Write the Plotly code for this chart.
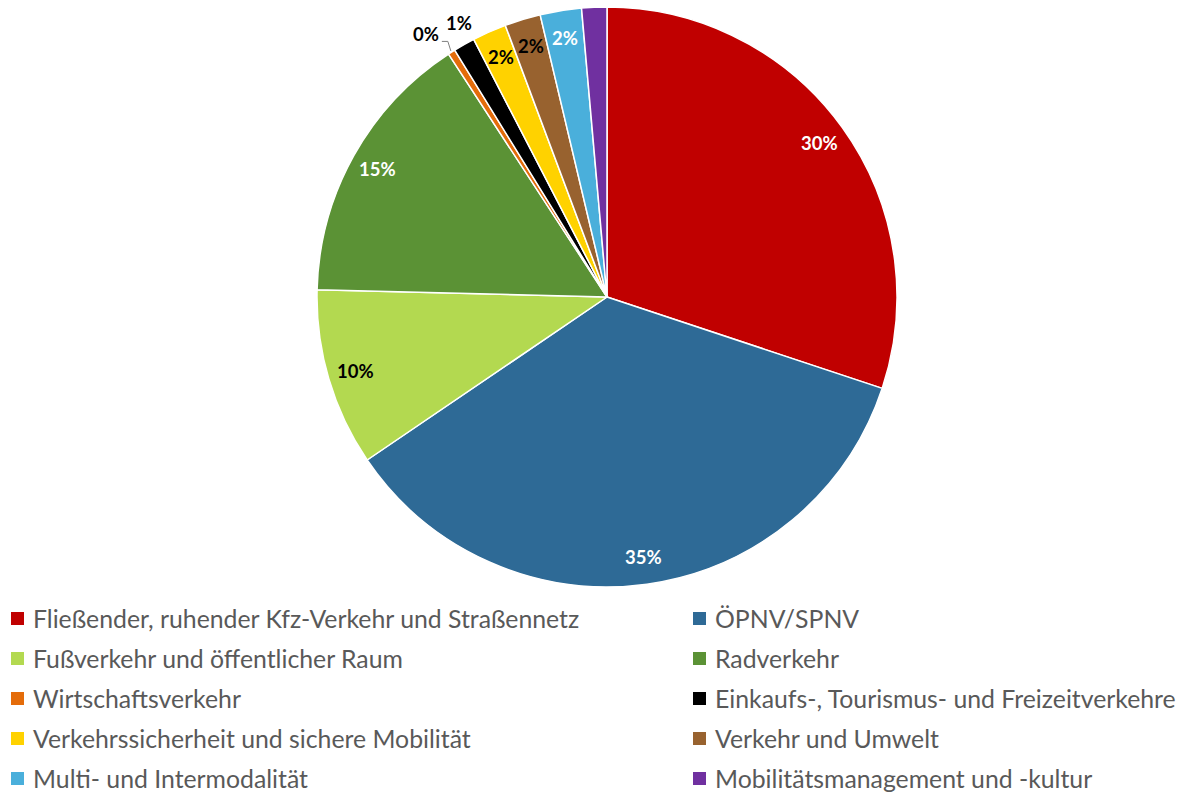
import math
import plotly.graph_objects as go

# Themenfelder und Anteile (in %)
categories = [
    "Fließender, ruhender Kfz-Verkehr und Straßennetz",
    "ÖPNV/SPNV",
    "Fußverkehr und öffentlicher Raum",
    "Radverkehr",
    "Wirtschaftsverkehr",
    "Einkaufs-, Tourismus- und Freizeitverkehre",
    "Verkehrssicherheit und sichere Mobilität",
    "Verkehr und Umwelt",
    "Multi- und Intermodalität",
    "Mobilitätsmanagement und -kultur",
]
shares = [30.1, 35.4, 9.9, 15.4, 0.4, 1.2, 1.9, 2.0, 2.3, 1.4]

colors = ["#C00000", "#2E6A96", "#B3D950", "#5B9235", "#E46C0A",
          "#000000", "#FFD200", "#98622F", "#4AAFDB", "#7030A0"]
label_colors = ["white", "white", "black", "white", "black",
                "black", "black", "black", "white", None]
outside = [False, False, False, False, True, True, False, False, False, False]

W, H = 1188, 792
CX, CY, R = 607, 297, 290

def px(x):
    return x / W

def py(y):
    return 1 - y / H

fig = go.Figure(go.Pie(
    labels=categories,
    values=shares,
    sort=False,
    direction="clockwise",
    rotation=0,
    marker=dict(colors=colors, line=dict(color="white", width=1.5)),
    textinfo="none",
    hoverinfo="label+percent",
    showlegend=False,
    domain=dict(x=[px(CX - R), px(CX + R)], y=[py(CY + R), py(CY - R)]),
))

total = sum(shares)
annotations = []
shapes = []
cum = 0.0
for i, v in enumerate(shares):
    mid = (cum + v / 2) / total * 2 * math.pi
    cum += v
    if label_colors[i] is None:
        continue
    text = f"{round(v / total * 100)}%"
    if outside[i]:
        if i == 4:
            ang = mid - math.radians(2.2)
            r = 1.10 * R
        else:
            ang = mid + math.radians(1.2)
            r = 1.075 * R
    else:
        ang = mid
        r = 0.905 * R
    x = CX + r * math.sin(ang)
    y = CY - r * math.cos(ang)
    annotations.append(dict(
        x=px(x), y=py(y), xref="paper", yref="paper", text=f"<b>{text}</b>",
        showarrow=False, xanchor="center", yanchor="middle",
        font=dict(family="Lato", size=18.5, color=label_colors[i]),
    ))
    if i == 4:
        # Führungslinie vom Label zum schmalen Segment
        ex = CX + 1.005 * R * math.sin(mid)
        ey = CY - 1.005 * R * math.cos(mid)
        lx, ly = x + 16, y + 7
        shapes.append(dict(
            type="path", xref="paper", yref="paper",
            path=f"M {px(lx)} {py(ly)} L {px(lx + 6)} {py(ly)} L {px(ex)} {py(ey)}",
            line=dict(color="#7F7F7F", width=1),
        ))

# Legende in zwei Spalten
col_x = [11, 693]
row_y0, row_dy = 618.5, 40.0
box = 13
for i, name in enumerate(categories):
    col, row = i % 2, i // 2
    x0 = col_x[col]
    yc = row_y0 + row * row_dy
    shapes.append(dict(
        type="rect", xref="paper", yref="paper",
        x0=px(x0), x1=px(x0 + box), y0=py(yc - box / 2), y1=py(yc + box / 2),
        fillcolor=colors[i], line=dict(width=0),
    ))
    annotations.append(dict(
        x=px(x0 + box + 7), y=py(yc), xref="paper", yref="paper", text=name,
        showarrow=False, xanchor="left", yanchor="middle",
        font=dict(family="Lato", size=24.8, color="#595959"),
    ))

fig.update_layout(
    width=W, height=H,
    margin=dict(l=0, r=0, t=0, b=0),
    paper_bgcolor="white",
    plot_bgcolor="white",
    annotations=annotations,
    shapes=shapes,
)

fig.write_html("out.html")
